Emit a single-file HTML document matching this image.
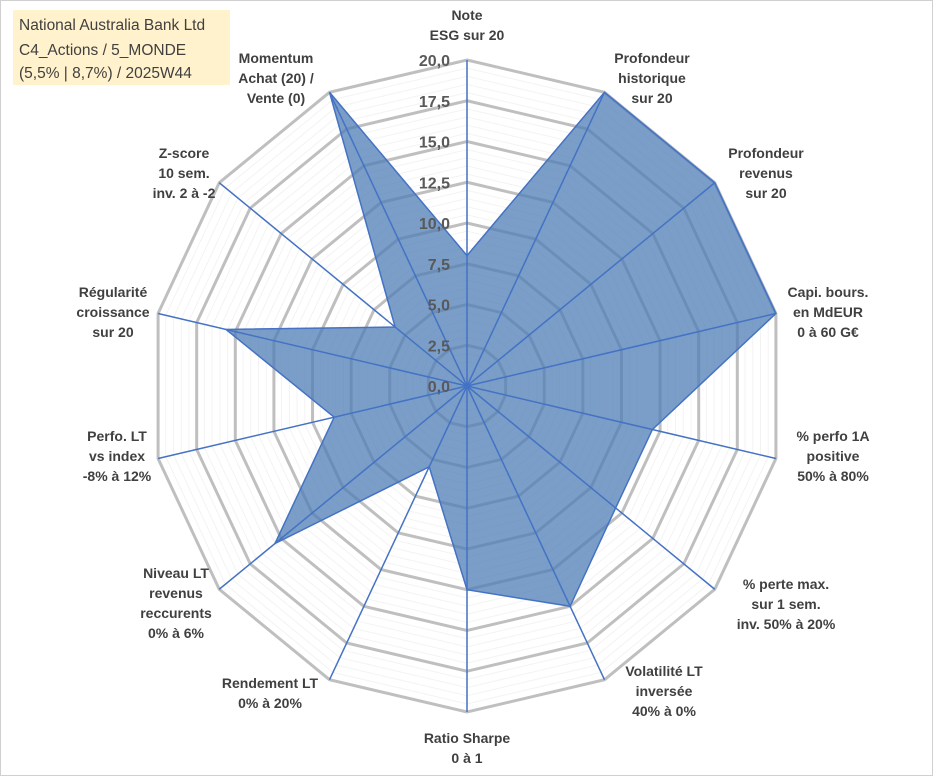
<!DOCTYPE html>
<html><head><meta charset="utf-8"><style>
html,body{margin:0;padding:0;background:#fff}
#wrap{position:relative;width:933px;height:776px;overflow:hidden}
svg{position:absolute;left:0;top:0}
.lbl{font-family:"Liberation Sans",sans-serif;font-weight:bold;font-size:14px;fill:#404040}
.tick{font-family:"Liberation Sans",sans-serif;font-weight:bold;font-size:16px;fill:#595959}
.ttl{font-family:"Liberation Sans",sans-serif;font-size:15.5px;fill:#404040}
</style></head><body>
<div id="wrap">
<svg id="chart" width="933" height="776">
<rect x="0.5" y="0.5" width="932" height="775" fill="#fff" stroke="#d0d0d0"/>
<g id="grid"></g><g id="series"></g><g id="axes"></g><g id="ticks"></g><g id="labels"></g>
<rect x="13" y="10" width="217" height="75" fill="#fff2cc"/>
<text class="ttl" x="19" y="30">National Australia Bank Ltd</text>
<text class="ttl" x="19" y="55">C4_Actions / 5_MONDE</text>
<text class="ttl" x="19" y="78">(5,5% | 8,7%) / 2025W44</text>
</svg>
</div>
<script>
const categories=[["Note","ESG sur 20"],["Profondeur","historique","sur 20"],["Profondeur","revenus","sur 20"],["Capi. bours.","en MdEUR","0 à 60 G€"],["% perfo 1A","positive","50% à 80%"],["% perte max.","sur 1 sem.","inv. 50% à 20%"],["Volatilité LT","inversée","40% à 0%"],["Ratio Sharpe","0 à 1"],["Rendement LT","0% à 20%"],["Niveau LT","revenus","reccurents","0% à 6%"],["Perfo. LT","vs index","-8% à 12%"],["Régularité","croissance","sur 20"],["Z-score","10 sem.","inv. 2 à -2"],["Momentum","Achat (20) /","Vente (0)"]];
const values=[8,20,20,20,12,12,15,12.5,5.5,15.5,8.6,15.6,5.8,20];
const tickLabels=["0,0","2,5","5,0","7,5","10,0","12,5","15,0","17,5","20,0"];
const maxVal=20;
const labelPos=[[467,20],[652,63],[766,158],[828,297],[833,441],[786,589],[664,676],[467,743],[270,688],[176,578],[117,441],[113,297],[184,158],[276,63]];
const cx=467,cy=386,R=326,SX=0.972,N=categories.length;
const ns="http://www.w3.org/2000/svg";
function ang(i){return i*2*Math.PI/N;}
function pt(i,v){const r=v/maxVal*R;return [cx+SX*r*Math.sin(ang(i)),cy-r*Math.cos(ang(i))];}
function mk(tag,attrs,parent){const e=document.createElementNS(ns,tag);for(const k in attrs)e.setAttribute(k,attrs[k]);parent.appendChild(e);return e;}
const grid=document.getElementById('grid');
for(let v=0.5;v<=maxVal;v+=0.5){
  const major=Math.abs(v/2.5-Math.round(v/2.5))<1e-6;
  const p=[];for(let i=0;i<N;i++)p.push(pt(i,v).join(','));
  const e=mk('polygon',{points:p.join(' '),fill:'none',stroke:major?'#bfbfbf':'#f3f3f3','stroke-width':major?3:1},grid);
  
  
}
const sp=values.map((v,i)=>pt(i,v).join(',')).join(' ');
const poly=mk('polygon',{points:sp,fill:'#4f7db5','fill-opacity':'0.75',stroke:'#4472c4','stroke-width':1.5},document.getElementById('series'));


const axes=document.getElementById('axes');
for(let i=0;i<N;i++){
  const [x,y]=pt(i,maxVal);
  const l=mk('line',{x1:cx,y1:cy,x2:x,y2:y,stroke:'#4472c4','stroke-width':1.5},axes);
  
  
}
const ticks=document.getElementById('ticks');
tickLabels.forEach((t,k)=>{
  const v=k*2.5;const y=cy-v/maxVal*R;
  const e=mk('text',{x:450,y:y+6,'text-anchor':'end',class:'tick'},ticks);
  e.textContent=t;
  
  
});
const labels=document.getElementById('labels');
categories.forEach((c,i)=>{
  const [x,y]=labelPos[i];
  const e=mk('text',{x:x,y:y,'text-anchor':'middle',class:'lbl'},labels);
  
  
  c.forEach((s,j)=>{const t=mk('tspan',{x:x,y:y+j*20},e);t.textContent=s;});
});
</script>
</body></html>
